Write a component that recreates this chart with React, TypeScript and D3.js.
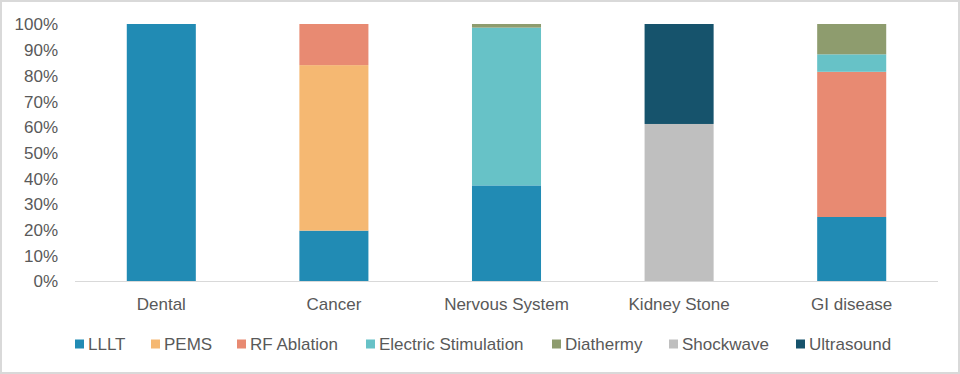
import React from "react";
import * as d3 from "d3";

const categories = ["Dental", "Cancer", "Nervous System", "Kidney Stone", "GI disease"];
const seriesNames = ["LLLT", "PEMS", "RF Ablation", "Electric Stimulation", "Diathermy", "Shockwave", "Ultrasound"];
const seriesColors = ["#218BB4", "#F5B872", "#E88A72", "#67C2C7", "#8E9C6E", "#BFBFBF", "#16536C"];
// values per series, in category order (percent)
const lllt = [100, 19.6, 37.2, 0, 24.9];
const pems = [0, 64.4, 0, 0, 0];
const rfAblation = [0, 16, 0, 0, 56.5];
const electricStimulation = [0, 0, 61.4, 0, 6.8];
const diathermy = [0, 0, 1.4, 0, 11.8];
const shockwave = [0, 0, 0, 61.1, 0];
const ultrasound = [0, 0, 0, 38.9, 0];
const yTicks = [0, 10, 20, 30, 40, 50, 60, 70, 80, 90, 100];

const seriesValues = [lllt, pems, rfAblation, electricStimulation, diathermy, shockwave, ultrasound];

const W = 960;
const H = 374;
const FONT = "'Liberation Sans', Arial, sans-serif";
const TEXT = "#595959";
const FS = 17;

export default function App() {
  const x = d3.scaleBand<string>().domain(categories).range([75, 938]).paddingInner(0.6).paddingOuter(0.3);
  const y = d3.scaleLinear().domain([0, 100]).range([281, 24]);

  const rows = categories.map((c, i) => {
    const r: Record<string, any> = { cat: c };
    seriesNames.forEach((s, j) => (r[s] = seriesValues[j][i]));
    return r;
  });
  const stack = d3.stack<any>().keys(seriesNames)(rows);

  // legend layout
  const legendX = [75, 151, 237, 366, 552, 669, 796];

  return (
    <svg width={W} height={H} style={{ position: "absolute", left: 0, top: 0 }} fontFamily={FONT}>
      <rect x={0} y={0} width={W} height={H} fill="#fff" />
      <rect x={1} y={1} width={W - 2} height={H - 2} fill="none" stroke="#D9D9D9" strokeWidth={2} />
      {yTicks.map((t) => (
        <text key={t} x={58} y={y(t) + 0.5} dy="0.35em" textAnchor="end" fontSize={FS} fill={TEXT}>
          {t}%
        </text>
      ))}
      {stack.map((layer, j) =>
        layer.map((d, i) =>
          d[1] - d[0] > 0 ? (
            <rect
              key={`${j}-${i}`}
              x={x(categories[i])}
              width={x.bandwidth()}
              y={y(d[1])}
              height={y(d[0]) - y(d[1])}
              fill={seriesColors[j]}
            />
          ) : null
        )
      )}
      <line x1={75} x2={938} y1={281.5} y2={281.5} stroke="#D9D9D9" strokeWidth={1} />
      {categories.map((c) => (
        <text key={c} x={(x(c) as number) + x.bandwidth() / 2} y={304.5} dy="0.35em" textAnchor="middle" fontSize={FS} fill={TEXT}>
          {c}
        </text>
      ))}
      {seriesNames.map((s, j) => (
        <g key={s} transform={`translate(${legendX[j]},344)`}>
          <rect x={0} y={-4.5} width={9} height={9} fill={seriesColors[j]} />
          <text x={13} y={0} dy="0.35em" fontSize={FS} fill={TEXT}>
            {s}
          </text>
        </g>
      ))}
    </svg>
  );
}
